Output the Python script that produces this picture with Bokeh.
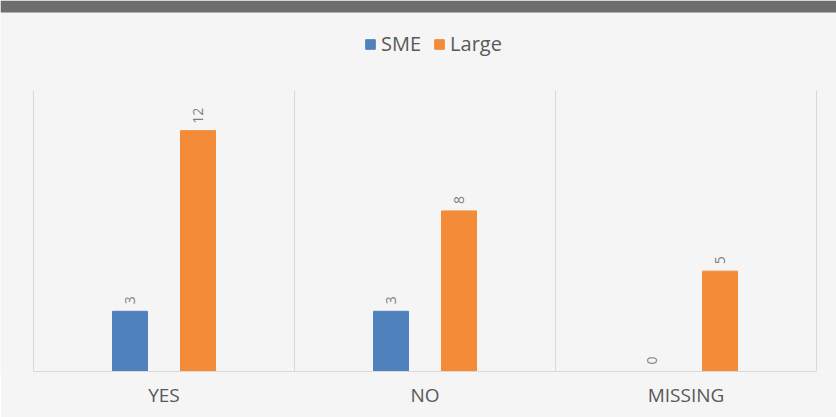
import math
from bokeh.plotting import figure
from bokeh.models import ColumnDataSource, Legend, LegendItem, FixedTicker, Range1d, BoxAnnotation
from bokeh.core.properties import value
from bokeh.embed import file_html
from bokeh.resources import INLINE

categories = ["YES", "NO", "MISSING"]
sme = [3, 3, 0]
large = [12, 8, 5]
series_names = ["SME", "Large"]
y_max = 14

BLUE = "#4f81bd"
ORANGE = "#f38b38"
BG = "#f5f5f5"
GRID = "#d9d9d9"
FONT = "Open Sans"

# layout (pixels)
W, H = 836, 417
plot_left, plot_right = 33, 816      # category area
plot_top, plot_bottom = 90, 371      # value area
bar_h = 12                           # dark bar at top

n = len(categories)
ppx = (plot_right - plot_left) / n           # px per category
ppy = (plot_bottom - plot_top) / y_max       # px per unit

x_start = -plot_left / ppx
x_end = n + (W - plot_right) / ppx
y_end = plot_bottom / ppy

p = figure(width=W, height=H, output_backend="svg", toolbar_location=None,
           x_range=Range1d(x_start, x_end), y_range=Range1d(0, y_end),
           min_border_left=0, min_border_right=0, min_border_top=0,
           min_border_bottom=H - plot_bottom)
p.background_fill_color = BG
p.border_fill_color = BG
p.outline_line_color = None
p.xgrid.grid_line_color = None
p.ygrid.grid_line_color = None
p.yaxis.visible = False

# category separators
bounds = list(range(n + 1))
p.segment(x0=bounds, x1=bounds, y0=[0] * len(bounds), y1=[y_max] * len(bounds),
          line_color=GRID, line_width=1)

offset = 0.1303
bw = 0.134
idx = list(range(n))
src_s = ColumnDataSource(dict(x=[i + 0.5 - offset for i in idx], top=sme, lbl=[str(v) for v in sme]))
src_l = ColumnDataSource(dict(x=[i + 0.5 + offset for i in idx], top=large, lbl=[str(v) for v in large]))

r1 = p.vbar(x="x", top="top", width=bw, source=src_s, fill_color=BLUE, line_color=BLUE)
r2 = p.vbar(x="x", top="top", width=bw, source=src_l, fill_color=ORANGE, line_color=ORANGE)

for src in (src_s, src_l):
    p.text(x="x", y="top", text="lbl", source=src, angle=math.pi / 2,
           text_align="left", text_baseline="middle", y_offset=-7,
           text_font_size="14px", text_color="#7f7f7f", text_font=value(FONT))

p.xaxis.ticker = FixedTicker(ticks=[i + 0.5 for i in idx])
p.xaxis.major_label_overrides = {i + 0.5: c for i, c in zip(idx, categories)}
p.xaxis.bounds = (0, n)
p.xaxis.major_tick_line_color = None
p.xaxis.minor_tick_line_color = None
p.xaxis.major_tick_out = 0
p.xaxis.major_tick_in = 0
p.xaxis.axis_line_color = GRID
p.xaxis.major_label_standoff = 10
p.xaxis.major_label_text_font_size = "19px"
p.xaxis.major_label_text_color = "#595959"
p.xaxis.major_label_text_font = FONT

legend = Legend(items=[LegendItem(label=series_names[0], renderers=[r1]),
                       LegendItem(label=series_names[1], renderers=[r2])],
                location=(364, plot_bottom - 57), orientation="horizontal")
legend.padding = 0
legend.margin = 0
legend.spacing = 12
legend.glyph_width = 12
legend.glyph_height = 12
legend.label_standoff = 5
legend.label_text_font_size = "20px"
legend.label_text_color = "#595959"
legend.label_text_font = FONT
legend.border_line_color = None
legend.background_fill_alpha = 0
p.add_layout(legend, "center")

topbar = BoxAnnotation(bottom=y_end - bar_h / ppy, fill_color="#6e6e6e", fill_alpha=1,
                       line_color=None, level="overlay")
p.add_layout(topbar)

open("out.html", "w").write(file_html(p, INLINE))
